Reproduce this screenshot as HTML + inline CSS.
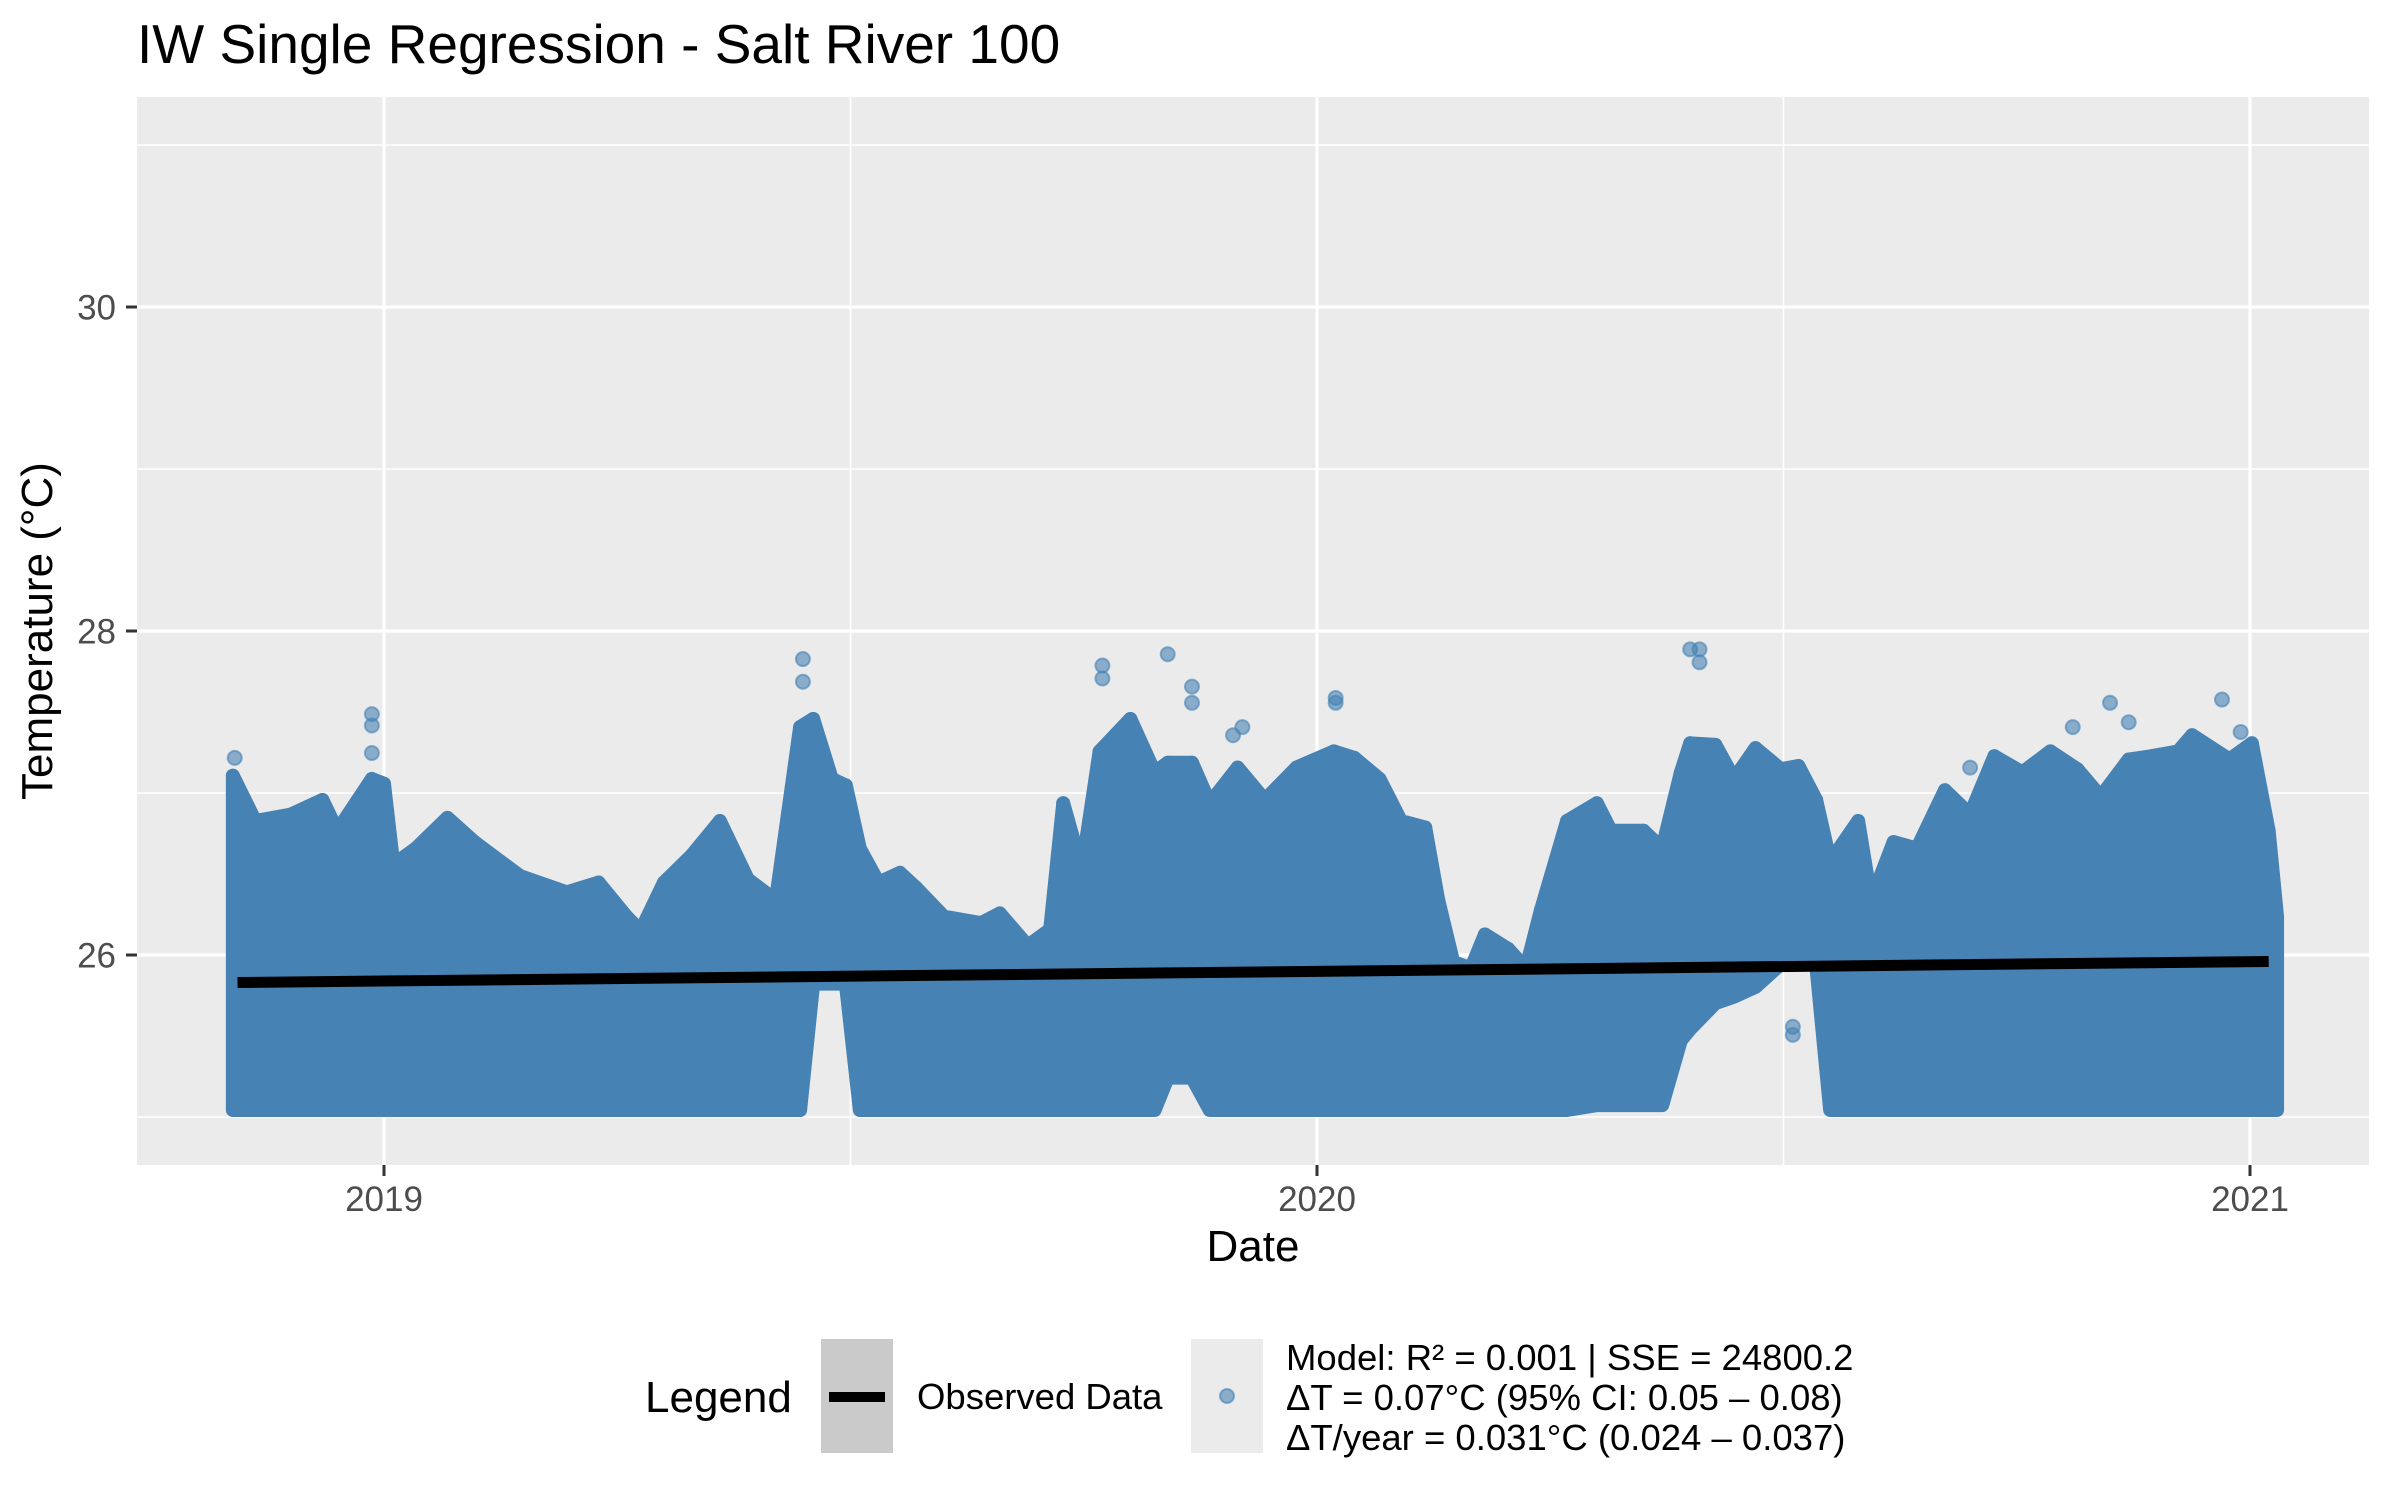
<!DOCTYPE html>
<html><head><meta charset="utf-8">
<style>
html,body{margin:0;padding:0;background:#fff;}
svg{display:block;font-family:"Liberation Sans",Arial,sans-serif;}
</style></head>
<body>
<svg id="chart" width="2400" height="1500" viewBox="0 0 2400 1500" xmlns="http://www.w3.org/2000/svg">
  <rect x="0" y="0" width="2400" height="1500" fill="#ffffff"/>
  <text x="137" y="63" font-size="55" fill="#000">IW Single Regression - Salt River 100</text>
  <rect x="137" y="97" width="2232" height="1068" fill="#ebebeb"/>
  <g id="grid"></g>
  <g id="ticks"></g>
  <g id="data"></g>
  <g id="fit"></g>
  <text x="1253" y="1261" font-size="44" text-anchor="middle" fill="#000">Date</text>
  <text transform="translate(52,631) rotate(-90)" font-size="44" text-anchor="middle" fill="#000">Temperature (°C)</text>
  <g>
    <text x="645" y="1412" font-size="44" fill="#000">Legend</text>
    <rect x="821" y="1339" width="72" height="114" fill="#cacaca"/>
    <line x1="829" y1="1397" x2="885" y2="1397" stroke="#000" stroke-width="10"/>
    <text x="917" y="1409" font-size="36.5" fill="#000">Observed Data</text>
    <rect x="1191" y="1339" width="72" height="114" fill="#ebebeb"/>
    <circle cx="1227" cy="1396" r="7" fill="#4682b4" fill-opacity="0.6" stroke="#4682b4" stroke-opacity="0.6" stroke-width="2"/>
    <text font-size="36.5" fill="#000">
      <tspan x="1286" y="1370">Model: R² = 0.001 | SSE = 24800.2</tspan>
      <tspan x="1286" y="1410">ΔT = 0.07°C (95% CI: 0.05 – 0.08)</tspan>
      <tspan x="1286" y="1450">ΔT/year = 0.031°C (0.024 – 0.037)</tspan>
    </text>
  </g>
</svg>
<script>
// ---- data (decimal years, °C) ----
const dates = [2018.838,2018.862,2018.90,2018.934,2018.95,2018.987,2019.0,2019.01,2019.034,2019.068,2019.097,2019.146,2019.196,2019.23,2019.26,2019.275,2019.30,2019.33,2019.36,2019.39,2019.42,2019.446,2019.46,2019.48,2019.495,2019.51,2019.53,2019.553,2019.57,2019.60,2019.64,2019.66,2019.69,2019.714,2019.728,2019.748,2019.767,2019.80,2019.826,2019.84,2019.866,2019.885,2019.915,2019.944,2019.978,2020.018,2020.04,2020.067,2020.09,2020.116,2020.13,2020.146,2020.165,2020.18,2020.205,2020.224,2020.24,2020.268,2020.30,2020.315,2020.35,2020.37,2020.39,2020.40,2020.427,2020.447,2020.47,2020.497,2020.516,2020.535,2020.55,2020.58,2020.594,2020.618,2020.643,2020.673,2020.70,2020.726,2020.756,2020.786,2020.815,2020.84,2020.87,2020.894,2020.923,2020.938,2020.978,2021.002,2021.02,2021.029];
const tempMax = [27.15,26.87,26.91,27.0,26.81,27.13,27.1,26.6,26.70,26.89,26.74,26.53,26.43,26.49,26.28,26.19,26.49,26.66,26.87,26.51,26.38,27.45,27.5,27.13,27.09,26.70,26.49,26.55,26.46,26.28,26.24,26.30,26.1,26.2,26.98,26.57,27.30,27.5,27.17,27.23,27.23,26.98,27.2,27.0,27.2,27.3,27.26,27.13,26.87,26.83,26.38,26.0,25.96,26.17,26.08,25.96,26.32,26.87,26.98,26.81,26.81,26.70,27.17,27.35,27.34,27.13,27.32,27.19,27.21,27.0,26.62,26.87,26.38,26.74,26.70,27.06,26.91,27.27,27.17,27.3,27.19,27.02,27.25,27.27,27.30,27.4,27.25,27.35,26.81,26.28];
const tempMin = [25.0,25.0,25.0,25.0,25.0,25.0,25.0,25.0,25.0,25.0,25.0,25.0,25.0,25.0,25.0,25.0,25.0,25.0,25.0,25.0,25.0,25.0,25.78,25.78,25.78,25.0,25.0,25.0,25.0,25.0,25.0,25.0,25.0,25.0,25.0,25.0,25.0,25.0,25.0,25.2,25.2,25.0,25.0,25.0,25.0,25.0,25.0,25.0,25.0,25.0,25.0,25.0,25.0,25.0,25.0,25.0,25.0,25.0,25.03,25.03,25.03,25.03,25.43,25.5,25.66,25.7,25.76,25.9,25.9,25.9,25.0,25.0,25.0,25.0,25.0,25.0,25.0,25.0,25.0,25.0,25.0,25.0,25.0,25.0,25.0,25.0,25.0,25.0,25.0,25.0];
const outlierDates = [2018.84,2018.987,2018.987,2018.987,2019.449,2019.449,2019.77,2019.77,2019.84,2019.866,2019.866,2020.02,2020.02,2020.40,2020.41,2020.41,2020.51,2020.51,2020.70,2020.85,2020.87,2020.99,2020.97,2020.81,2019.91,2019.92];
const outlierTemps = [27.26,27.53,27.46,27.29,27.87,27.73,27.83,27.75,27.9,27.70,27.6,27.63,27.6,27.93,27.93,27.85,25.6,25.55,27.2,27.6,27.48,27.42,27.62,27.45,27.4,27.45];
const fitDates = [2018.843,2021.02];
const fitTemps = [25.83,25.96];
const yTicks = [26,28,30];
const yMinor = [25,27,29,31];
const xTicks = [2019,2020,2021];
const xTickLabels = ["2019","2020","2021"];
const xMinor = [2019.5,2020.5];

// ---- scales ----
const PX0=137, PX1=2369, PY0=97, PY1=1165;
function xs(d){ return 384 + (d-2019)*933; }
function ys(t){ return 955 - (t-26)*162; }
const NS="http://www.w3.org/2000/svg";
function mk(tag, parent){ const e=document.createElementNS(NS,tag); parent.appendChild(e); return e; }
const grid=document.getElementById('grid'), ticks=document.getElementById('ticks'), dataG=document.getElementById('data'), fitG=document.getElementById('fit');

yMinor.forEach(v=>{ const y=ys(v); if(y<PY0||y>PY1) return;
  const l=mk('line',grid); l.setAttribute('x1',PX0); l.setAttribute('x2',PX1); l.setAttribute('y1',y); l.setAttribute('y2',y);
  l.setAttribute('stroke','#fff'); l.setAttribute('stroke-width','1.6');
  
   });
xMinor.forEach(v=>{ const x=xs(v);
  const l=mk('line',grid); l.setAttribute('x1',x); l.setAttribute('x2',x); l.setAttribute('y1',PY0); l.setAttribute('y2',PY1);
  l.setAttribute('stroke','#fff'); l.setAttribute('stroke-width','1.6');
  
   });
yTicks.forEach(v=>{ const y=ys(v);
  const l=mk('line',grid); l.setAttribute('x1',PX0); l.setAttribute('x2',PX1); l.setAttribute('y1',y); l.setAttribute('y2',y);
  l.setAttribute('stroke','#fff'); l.setAttribute('stroke-width','3.2');
  
  
  const t=mk('line',ticks); t.setAttribute('x1',126); t.setAttribute('x2',PX0); t.setAttribute('y1',y); t.setAttribute('y2',y);
  t.setAttribute('stroke','#333'); t.setAttribute('stroke-width','3');
  
  
  const tx=mk('text',ticks); tx.textContent=String(v); tx.setAttribute('x',116); tx.setAttribute('y',y+12.5);
  tx.setAttribute('text-anchor','end'); tx.setAttribute('font-size','35'); tx.setAttribute('fill','#4d4d4d');
  
   });
xTicks.forEach((v,i)=>{ const x=xs(v);
  const l=mk('line',grid); l.setAttribute('x1',x); l.setAttribute('x2',x); l.setAttribute('y1',PY0); l.setAttribute('y2',PY1);
  l.setAttribute('stroke','#fff'); l.setAttribute('stroke-width','3.2');
  
  
  const t=mk('line',ticks); t.setAttribute('x1',x); t.setAttribute('x2',x); t.setAttribute('y1',PY1); t.setAttribute('y2',PY1+11);
  t.setAttribute('stroke','#333'); t.setAttribute('stroke-width','3');
  
  
  const tx=mk('text',ticks); tx.textContent=xTickLabels[i]; tx.setAttribute('x',x); tx.setAttribute('y',1211);
  tx.setAttribute('text-anchor','middle'); tx.setAttribute('font-size','35'); tx.setAttribute('fill','#4d4d4d');
  
   });

// envelope area of dense observations
const R=7;
let d='M'+xs(dates[0])+','+(ys(tempMax[0])+R);
for(let i=0;i<dates.length;i++) d+=' L'+xs(dates[i])+','+(ys(tempMax[i])+R);
for(let i=dates.length-1;i>=0;i--) d+=' L'+xs(dates[i])+','+(ys(tempMin[i])-R);
d+=' Z';
const area=mk('path',dataG); area.setAttribute('d',d); area.setAttribute('fill','#4682b4');
area.setAttribute('stroke','#4682b4'); area.setAttribute('stroke-width',2*R); area.setAttribute('stroke-linejoin','round');


for(let i=0;i<dates.length;i++){
  const c=mk('circle',dataG); c.setAttribute('cx',xs(dates[i])); c.setAttribute('cy',ys(tempMax[i])+R); c.setAttribute('r',R);
  c.setAttribute('fill','#4682b4');
  
  
}
for(let i=0;i<outlierDates.length;i++){
  const c=mk('circle',dataG); c.setAttribute('cx',xs(outlierDates[i])); c.setAttribute('cy',ys(outlierTemps[i])+R); c.setAttribute('r',R);
  c.setAttribute('fill','#4682b4'); c.setAttribute('fill-opacity','0.6'); c.setAttribute('stroke','#4682b4'); c.setAttribute('stroke-opacity','0.6'); c.setAttribute('stroke-width','2');
  
  
}
const fl=mk('line',fitG);
fl.setAttribute('x1',xs(fitDates[0])); fl.setAttribute('y1',ys(fitTemps[0]));
fl.setAttribute('x2',xs(fitDates[1])); fl.setAttribute('y2',ys(fitTemps[1]));
fl.setAttribute('stroke','#000'); fl.setAttribute('stroke-width','11');


</script>
</body></html>
